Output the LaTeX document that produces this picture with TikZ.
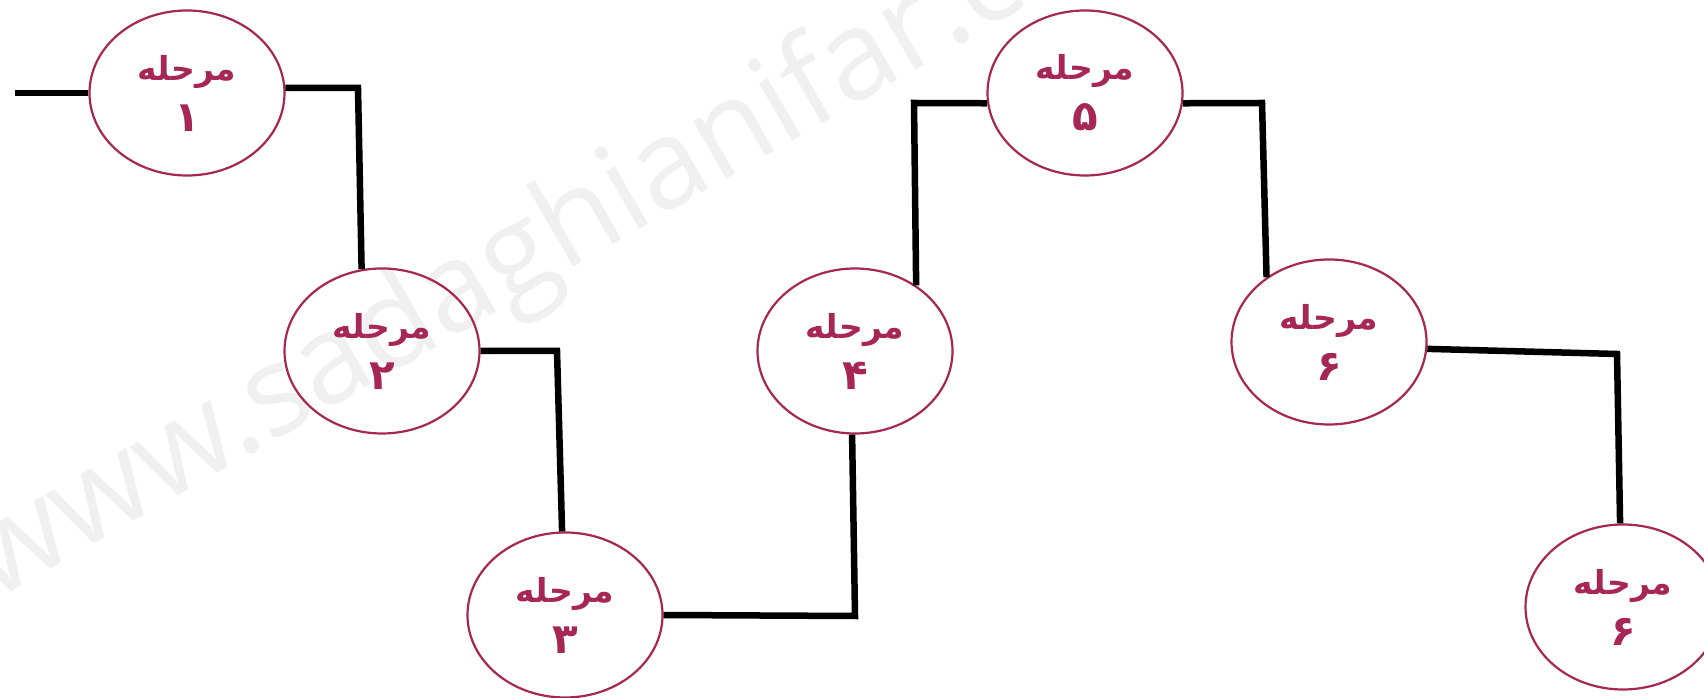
\documentclass[tikz,border=0pt]{standalone}
\usepackage{fontspec}
\usetikzlibrary{shapes.geometric}
\TeXXeTstate=1
\newfontfamily\fa[Script=Arabic]{DejaVu Sans}
\newfontfamily\wmfont{Open Sans}
\definecolor{stagered}{RGB}{166,38,84}
\definecolor{wmgray}{RGB}{240,240,240}
\newcommand{\stagelabel}[1]{\beginR مرحله\endR\\[5pt]{\fontsize{42}{46}\selectfont\beginR #1\endR}}
\tikzset{
  stage/.style={ellipse, draw=stagered, line width=2.2pt, minimum width=195pt,
    minimum height=165pt, inner sep=0pt, text=stagered, align=center,
    font=\fa\bfseries\fontsize{33}{46}\selectfont},
  link/.style={line width=6.5pt, line join=miter, line cap=butt},
  wm/.style={text=wmgray, font=\wmfont\fontsize{124}{140}\selectfont, inner sep=0pt}
}
\begin{document}
\begin{tikzpicture}[x=1pt,y=1pt]
\useasboundingbox (0,0) rectangle (1704,698);
\clip (0,0) rectangle (1704,698);
\fill[white] (0,0) rectangle (1704,698);
\node[wm, rotate=30, anchor=base west] (mark) at (-6,96) {www.sadaghianifar.com};

\node[stage] (E1) at (187,605) {\stagelabel{۱}};
\node[stage] (E2) at (382,347) {\stagelabel{۲}};
\node[stage] (E3) at (565,83) {\stagelabel{۳}};
\node[stage] (E4) at (855,347) {\stagelabel{۴}};
\node[stage] (E5) at (1085,605) {\stagelabel{۵}};
\node[stage] (E6) at (1329,356) {\stagelabel{۶}};
\node[stage] (E7) at (1623,91) {\stagelabel{۶}};

\coordinate (s0) at (15,605);
\coordinate (c1) at (358,610);
\coordinate (c2) at (557,347);
\coordinate (c3) at (855,82);
\coordinate (c4) at (914,595);
\coordinate (c5) at (1262,595);
\coordinate (c6) at (1617,344);

\draw[link] (s0) -- (E1.west);
\draw[link] (E1.3) -- (c1) -- (E2.104);
\draw[link] (E2.east) -- (c2) -- (E3.92);
\draw[link] (E3.east) -- (c3) -- (E4.268);
\draw[link] (E4.47) -- (c4) -- (E5.186);
\draw[link] (E5.354) -- (c5) -- (E6.134);
\draw[link] (E6.356) -- (c6) -- (E7.92);
\end{tikzpicture}
\end{document}
